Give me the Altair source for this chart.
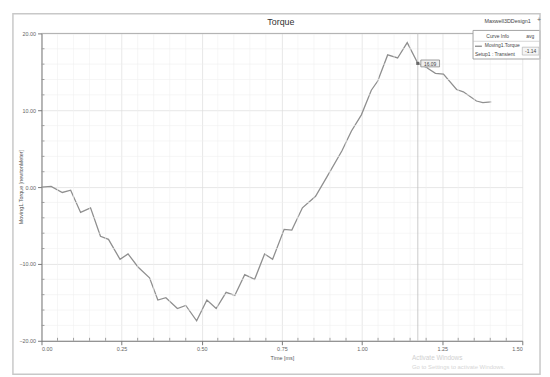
import altair as alt
import pandas as pd

# ---- data ----
time_ms = [0.000, 0.030, 0.065, 0.091, 0.122, 0.153, 0.184, 0.209, 0.245, 0.270,
           0.301, 0.337, 0.363, 0.388, 0.424, 0.450, 0.484, 0.516, 0.545, 0.576,
           0.603, 0.634, 0.665, 0.696, 0.721, 0.757, 0.781, 0.814, 0.855, 0.890,
           0.937, 0.967, 0.998, 1.029, 1.049, 1.080, 1.111, 1.141, 1.174, 1.200,
           1.229, 1.254, 1.295, 1.316, 1.357, 1.377, 1.403]
torque = [0.0, 0.1, -0.7, -0.4, -3.3, -2.7, -6.4, -6.8, -9.4, -8.7,
          -10.4, -11.8, -14.7, -14.4, -15.8, -15.4, -17.4, -14.7, -15.8, -13.7,
          -14.1, -11.4, -12.0, -8.7, -9.4, -5.5, -5.6, -2.7, -1.2, 1.3,
          4.7, 7.3, 9.4, 12.6, 13.8, 17.2, 16.8, 18.8, 16.1, 15.6,
          14.8, 14.7, 12.7, 12.4, 11.2, 11.0, 11.1]

x_major = [0.0, 0.25, 0.5, 0.75, 1.0, 1.25, 1.5]
y_major = [-20, -10, 0, 10, 20]
x_minor = [0.05, 0.10, 0.15, 0.20, 0.30, 0.35, 0.40, 0.45, 0.55, 0.60, 0.65, 0.70,
           0.80, 0.85, 0.90, 0.95, 1.05, 1.10, 1.15, 1.20, 1.30, 1.35, 1.40, 1.45]
y_minor = [-18, -16, -14, -12, -8, -6, -4, -2, 2, 4, 6, 8, 12, 14, 16, 18]

marker_t = [1.174]
marker_v = [16.1]
marker_label = ["16.09"]

W, H = 488, 312

df = pd.DataFrame({"t": time_ms, "v": torque})
xs = alt.Scale(domain=[0, 1.5], nice=False, zero=False)
ys = alt.Scale(domain=[-20, 20], nice=False, zero=False)

common = dict(grid=True, gridColor="#dcdcdc", gridWidth=0.7, domainColor="#777",
              tickColor="#777", tickSize=4, labelFontSize=5.5, labelColor="#666",
              titleFontSize=5.5, titleColor="#555", titleFontWeight="normal",
              labelPadding=2, labelFont="Liberation Sans",
              titleFont="Liberation Sans")
ax_x = alt.Axis(values=x_major, format=".2f", title="Time [ms]", titlePadding=4, **common)
ax_y = alt.Axis(values=y_major, format=".2f", title=None, **common)

def X(field="t"):
    return alt.X(f"{field}:Q", scale=xs, axis=ax_x, title="Time [ms]")

def Y(field="v"):
    return alt.Y(f"{field}:Q", scale=ys, axis=ax_y, title=None)

line = alt.Chart(df).mark_line(color="#8f8f8f", strokeWidth=1.3).encode(x=X(), y=Y())

minor_gx = alt.Chart(pd.DataFrame({"t": x_minor})).mark_rule(color="#f0f0f0", strokeWidth=0.6).encode(x=X())
minor_gy = alt.Chart(pd.DataFrame({"v": y_minor})).mark_rule(color="#f0f0f0", strokeWidth=0.6).encode(y=Y())

minor_tx = alt.Chart(pd.DataFrame({"t": x_minor})).mark_rule(color="#777", strokeWidth=0.7).encode(
    x=X(), y=alt.value(H - 3), y2=alt.value(H))
minor_ty = alt.Chart(pd.DataFrame({"v": y_minor})).mark_rule(color="#777", strokeWidth=0.7).encode(
    y=Y(), x=alt.value(0), x2=alt.value(3))

top_rule = alt.Chart(pd.DataFrame({"v": [20]})).mark_rule(color="#999", strokeWidth=0.8).encode(y=Y())

mdf = pd.DataFrame({"t": marker_t, "v": marker_v, "lab": marker_label})
marker_line = alt.Chart(mdf).mark_rule(color="#bdbdbd", strokeWidth=0.8).encode(x=X())
marker_pt = alt.Chart(mdf).mark_square(color="#666", size=10, opacity=1).encode(x=X(), y=Y())
marker_box = alt.Chart(mdf).mark_rect(fill="#eeeeee", stroke="#777", strokeWidth=0.7).encode(
    x=alt.value(385), x2=alt.value(404), y=alt.value(27), y2=alt.value(34))
marker_txt = alt.Chart(mdf).mark_text(fontSize=5, color="#444", font="Liberation Sans").encode(
    x=alt.value(394.5), y=alt.value(31), text="lab:N")

def txt(s, x, y, size=5, color="#444", align="center", angle=0, weight="normal"):
    return alt.Chart(pd.DataFrame({"s": [s]})).mark_text(
        fontSize=size, color=color, align=align, angle=angle, fontWeight=weight,
        font="Liberation Sans", baseline="middle").encode(
        x=alt.value(x), y=alt.value(y), text="s:N")

def box(x, x2, y, y2, stroke="#888", fill="white", sw=0.7):
    return alt.Chart(pd.DataFrame({"a": [0]})).mark_rect(
        fill=fill, stroke=stroke, strokeWidth=sw).encode(
        x=alt.value(x), x2=alt.value(x2), y=alt.value(y), y2=alt.value(y2))

frame = alt.Chart(pd.DataFrame({"a": [0]})).mark_rect(
    fill="transparent", stroke="#c8c8c8", strokeWidth=1.5).encode(
    x=alt.value(-29), x2=alt.value(506), y=alt.value(-20), y2=alt.value(346))

legend_box = box(438, 506, -3, 26, stroke="#999", fill="white", sw=0.9)
legend_sep = alt.Chart(pd.DataFrame({"a": [0]})).mark_rule(color="#bbb", strokeWidth=0.6).encode(
    x=alt.value(438), x2=alt.value(506), y=alt.value(8))
legend_sample = alt.Chart(pd.DataFrame({"a": [0]})).mark_rule(color="#666", strokeWidth=1).encode(
    x=alt.value(440), x2=alt.value(447), y=alt.value(13))
legend_val_box = box(488, 505, 14, 22, stroke="#aaa", fill="#f4f4f4", sw=0.6)

texts = [
    txt("Torque", 243, -12, size=9, color="#333"),
    txt("Maxwell3DDesign1", 473, -13, size=5.5, color="#444"),
    txt("+", 505, -14, size=7, color="#666"),
    txt("Moving1.Torque [newtonMeter]", -21, 156, size=5.5, color="#555", angle=270),
    txt("Curve Info", 463, 2.5, size=5),
    txt("avg", 496, 2.5, size=5),
    txt("Moving1.Torque", 450, 12, size=5, align="left"),
    txt("Setup1 : Transient", 440, 21, size=5, align="left"),
    txt("-1.14", 496.5, 18, size=5),
    txt("Activate Windows", 376, 329, size=6.5, color="#d0d0d0", align="left"),
    txt("Go to Settings to activate Windows.", 376, 339, size=6, color="#d6d6d6", align="left"),
]

chart = alt.layer(
    line, minor_gx, minor_gy, top_rule, minor_tx, minor_ty,
    marker_line, marker_pt, marker_box, marker_txt,
    legend_box, legend_sep, legend_sample, legend_val_box, frame, *texts
).properties(
    width=W, height=H,
    autosize=alt.AutoSizeParams(type="none"),
    padding={"left": 34, "top": 23, "right": 20, "bottom": 35},
    background="white",
).configure_view(stroke=None)

chart.save("out.html", embed_options={"renderer": "svg", "actions": False})
